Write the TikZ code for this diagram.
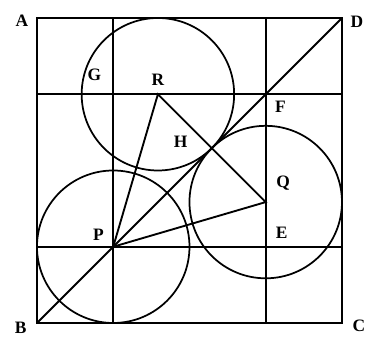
\documentclass[tikz,border=0pt]{standalone}
\usepackage{fontspec}
\setmainfont{Liberation Serif}
\usetikzlibrary{positioning,calc}
\tikzset{
  every picture/.style={font=\fontsize{13}{15}\selectfont\bfseries},
  geo frame/.style={draw=black, line width=1.6pt, line join=miter},
  geo line/.style={draw=black, line width=1.4pt},
  geo circle/.style={draw=black, line width=1.3pt},
  geo label/.style={inner sep=0pt}
}

\begin{document}
\begin{tikzpicture}[x=2cm,y=2cm]
  \useasboundingbox (-0.485,-0.197) rectangle (4.302,4.236);
  \coordinate (B) at (0,0);
  \coordinate (C) at (4,0);
  \coordinate (D) at (4,4);
  \coordinate (A) at (0,4);
  \coordinate (P) at (1,1);
  \coordinate (Q) at (3,{3-sqrt(2)});
  \coordinate (R) at ({3-sqrt(2)},3);
  \coordinate (E) at (Q |- P);
  \coordinate (F) at (Q |- R);
  \coordinate (G) at (P |- R);
  \coordinate (H) at ($(R)!0.5!(Q)$);
  % grid lines and diagonal
  \draw[geo line] (P |- A) -- (P |- B);
  \draw[geo line] (Q |- A) -- (Q |- B);
  \draw[geo line] (P -| A) -- (P -| C);
  \draw[geo line] (R -| A) -- (R -| C);
  \draw[geo line] (B) -- (D);
  % circles
  \draw[geo circle] (P) circle (1);
  \draw[geo circle] (Q) circle (1);
  \draw[geo circle] (R) circle (1);
  % triangle
  \draw[geo line] (P) -- (R) -- (Q) -- cycle;
  \draw[geo frame] (A) -- (B) -- (C) -- (D) -- cycle;
  % labels
  \node[geo label, left=2.2mm of A, yshift=-0.8mm] (lA) {A};
  \node[geo label, left=2.7mm of B, yshift=-1.2mm] (lB) {B};
  \node[geo label, right=2.7mm of C, yshift=-0.7mm] (lC) {C};
  \node[geo label, right=2.2mm of D, yshift=-1mm] (lD) {D};
  \node[geo label, above right=2.1mm and 2.6mm of E] (lE) {E};
  \node[geo label, below right=1.7mm and 2.4mm of F] (lF) {F};
  \node[geo label, above left=3.5mm and 3.1mm of G] (lG) {G};
  \node[geo label, above left=0mm and 6.3mm of H] (lH) {H};
  \node[geo label, above left=1.6mm and 2.4mm of P] (lP) {P};
  \node[geo label, above right=2.9mm and 2.7mm of Q] (lQ) {Q};
  \node[geo label, above=2.1mm of R] (lR) {R};
\end{tikzpicture}
\end{document}
